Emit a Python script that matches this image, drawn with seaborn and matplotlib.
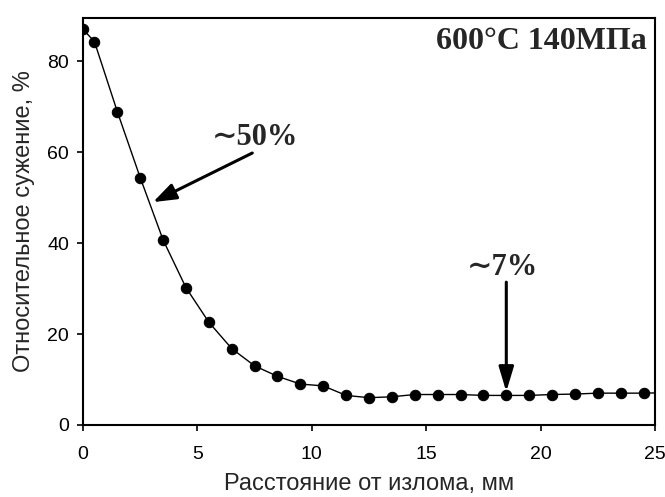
import numpy as np
import pandas as pd
import matplotlib
matplotlib.use("Agg")
import matplotlib.pyplot as plt
import seaborn as sns

# distance from fracture, mm
distance = [0, 0.5, 1.5, 2.5, 3.5, 4.5, 5.5, 6.5, 7.5, 8.5, 9.5, 10.5, 11.5,
            12.5, 13.5, 14.5, 15.5, 16.5, 17.5, 18.5, 19.5, 20.5, 21.5, 22.5,
            23.5, 24.5, 25.5]
# relative reduction of area, %
reduction = [87.0, 84.3, 68.9, 54.4, 40.7, 30.2, 22.6, 16.8, 13.0, 10.7, 9.0,
             8.6, 6.5, 6.0, 6.2, 6.7, 6.7, 6.7, 6.5, 6.5, 6.5, 6.7, 6.8, 7.0,
             7.0, 7.0, 7.1]

title_text = "600°C 140МПа"
xlabel = "Расстояние от излома, мм"
ylabel = "Относительное сужение, %"

df = pd.DataFrame({"x": distance, "y": reduction})

sns.set_style("ticks")
plt.rcParams['font.family'] = ['Liberation Sans', 'DejaVu Sans']

fig = plt.figure(figsize=(6.65, 4.97), dpi=100)
ax = fig.add_axes([0.1248, 0.1449, 0.8602, 0.819])

sns.lineplot(data=df, x="x", y="y", ax=ax, color="black", linewidth=1,
             marker="o", markersize=7.5, markeredgecolor="black",
             markerfacecolor="black")

ax.set_xlim(0, 25)
ax.set_ylim(0, 89.5)
ax.set_xticks([0, 5, 10, 15, 20, 25])
ax.set_yticks([0, 20, 40, 60, 80])
ax.tick_params(axis="both", direction="out", length=4, width=1.2,
               labelsize=14, colors="black")
ax.tick_params(axis="y", pad=6)
ax.tick_params(axis="x", pad=11)
for s in ax.spines.values():
    s.set_linewidth(1.5)
    s.set_color("black")

ax.set_xlabel(xlabel, fontsize=17, labelpad=7)
ax.set_ylabel(ylabel, fontsize=17, labelpad=9)

serif = ['Liberation Serif', 'DejaVu Serif']
ax.text(0.985, 0.941, title_text, transform=ax.transAxes, ha="right",
        va="center", fontsize=23, fontweight="bold", family=serif)

ax.annotate("", xy=(3.06, 49), xytext=(7.4, 59.8),
            arrowprops=dict(arrowstyle="-|>,head_length=1.4,head_width=0.5",
                            color="black", lw=2.2, shrinkA=0, shrinkB=0))
ax.text(7.5, 63.3, "∼50%", ha="center", va="center", fontsize=22,
        fontweight="bold", family=serif)

ax.annotate("", xy=(18.5, 7.3), xytext=(18.5, 31.4),
            arrowprops=dict(arrowstyle="-|>,head_length=1.5,head_width=0.45",
                            color="black", lw=2.2, shrinkA=0, shrinkB=0))
ax.text(18.35, 34.7, "∼7%", ha="center", va="center", fontsize=22,
        fontweight="bold", family=serif)

fig.savefig("out.png", dpi=100)
